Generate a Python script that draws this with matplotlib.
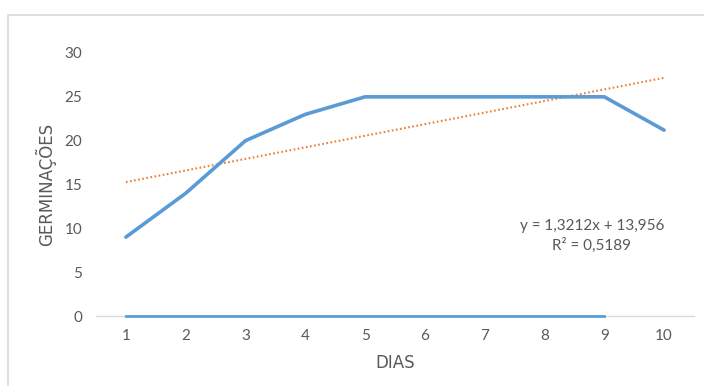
import matplotlib
matplotlib.use("Agg")
import matplotlib.pyplot as plt
from matplotlib.patches import Rectangle
import numpy as np

dias = [1, 2, 3, 4, 5, 6, 7, 8, 9, 10]
germinacoes = [9, 14, 20, 23, 25, 25, 25, 25, 25, 21.2]
dias_zero = [1, 2, 3, 4, 5, 6, 7, 8, 9]
zeros = [0, 0, 0, 0, 0, 0, 0, 0, 0]
slope = 1.3212
intercept = 13.956
eq_text = "y = 1,3212x + 13,956"
r2_text = "R² = 0,5189"
yticks = [0, 5, 10, 15, 20, 25, 30]

W, H = 704, 386
fig = plt.figure(figsize=(W / 100, H / 100), dpi=100)
fig.patch.set_facecolor("white")

border = Rectangle((8 / W, -0.1), 1.2, 1 - 15 / H + 0.1, transform=fig.transFigure,
                   fill=False, edgecolor="#D9D9D9", linewidth=1.2)
fig.add_artist(border)

ax = fig.add_axes([96 / W, 1 - 316 / H, (694 - 96) / W, (316 - 53) / H])
ax.set_xlim(0.5, 10.5)
ax.set_ylim(0, 30)

grey = "#595959"
ax.plot(dias, germinacoes, color="#5B9BD5", linewidth=2.6, solid_joinstyle="round",
        solid_capstyle="round", clip_on=False, zorder=3)
ax.plot(dias_zero, zeros, color="#5B9BD5", linewidth=2.0, clip_on=False, zorder=3)
xt = np.array([dias[0], dias[-1]])
ax.plot(xt, slope * xt + intercept, color="#ED7D31", linewidth=1.5,
        linestyle=(0, (0.8, 1.2)), clip_on=False, zorder=2)

for s in ["top", "right", "left"]:
    ax.spines[s].set_visible(False)
ax.spines["bottom"].set_color("#D9D9D9")
ax.spines["bottom"].set_linewidth(1.0)

ax.set_xticks(dias)
ax.set_yticks(yticks)
ax.tick_params(axis="both", length=0, colors=grey, labelsize=11)
ax.tick_params(axis="y", pad=10)
ax.tick_params(axis="x", pad=9)
for lab in ax.get_xticklabels() + ax.get_yticklabels():
    lab.set_fontfamily("Lato")

ax.set_xlabel("DIAS", color=grey, fontsize=12, family="Liberation Sans Narrow", labelpad=8)
ax.set_ylabel("GERMINAÇÕES", color=grey, fontsize=12, family="Liberation Sans Narrow", labelpad=6)

ax.text(592 / W, 1 - 226 / H, eq_text, transform=fig.transFigure, ha="center", va="center",
        color=grey, fontsize=11, family="Lato")
ax.text(592 / W, 1 - 245 / H, r2_text, transform=fig.transFigure, ha="center", va="center",
        color=grey, fontsize=11, family="Lato")

fig.savefig("out.png", dpi=100)
